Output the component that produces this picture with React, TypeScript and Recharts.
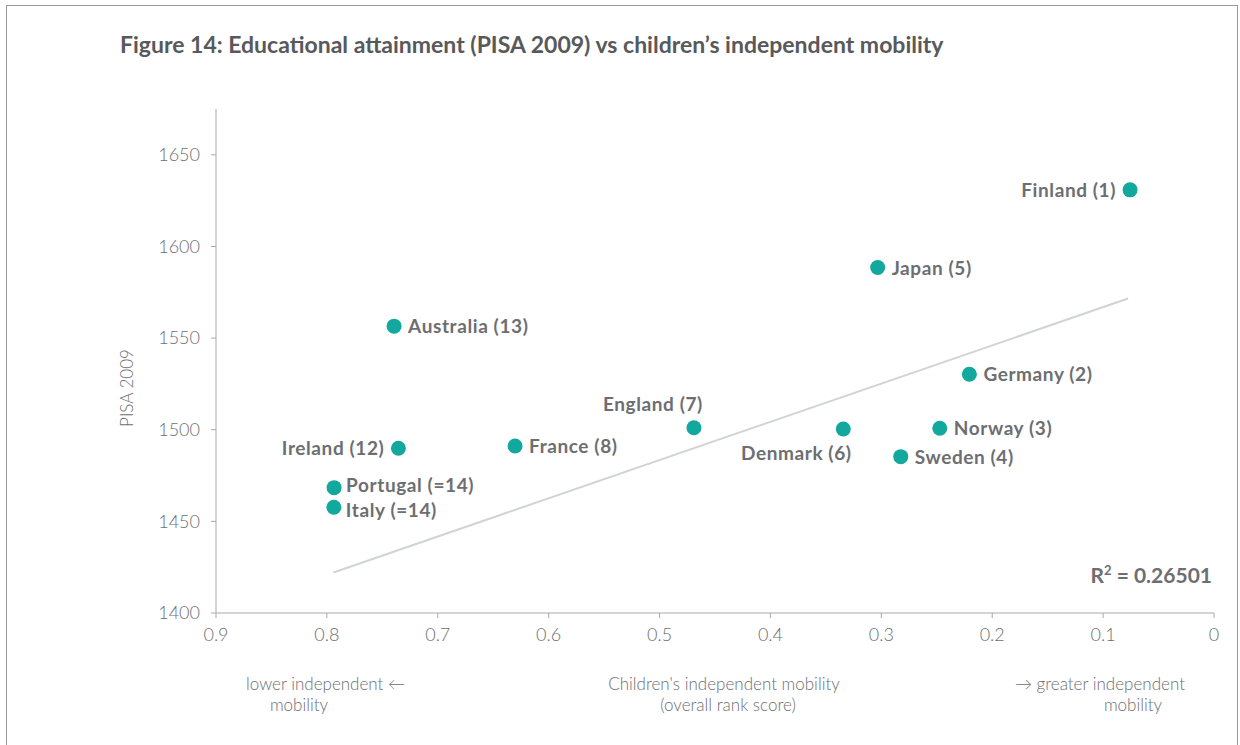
import { ScatterChart, Scatter, XAxis, YAxis, ReferenceLine } from 'recharts';

const COUNTRIES = [
  'Finland (1)',
  'Japan (5)',
  'Australia (13)',
  'Germany (2)',
  'England (7)',
  'Denmark (6)',
  'Norway (3)',
  'Sweden (4)',
  'Ireland (12)',
  'France (8)',
  'Portugal (=14)',
  'Italy (=14)',
];
const MOBILITY = [0.0757, 0.3033, 0.7394, 0.2206, 0.469, 0.3343, 0.2473, 0.2825, 0.7355, 0.6303, 0.7935, 0.7937];
const PISA = [1630.9, 1588.5, 1556.5, 1530.3, 1501.1, 1500.4, 1500.8, 1485.3, 1489.9, 1491.1, 1468.4, 1457.7];

const X_TICKS = [0, 0.1, 0.2, 0.3, 0.4, 0.5, 0.6, 0.7, 0.8, 0.9];
const Y_TICKS = [1400, 1450, 1500, 1550, 1600, 1650];

// fitted trend line
const TREND_X = [0.7941, 0.0775];
const TREND_Y = [1422.1, 1571.6];

// where each label sits relative to its dot
const LABEL_POS: Record<string, { dx: number; dy: number; anchor: 'start' | 'middle' | 'end' }> = {
  'Finland (1)': { dx: -14, dy: 7, anchor: 'end' },
  'England (7)': { dx: -41, dy: -17, anchor: 'middle' },
  'Denmark (6)': { dx: -47, dy: 31, anchor: 'middle' },
  'Ireland (12)': { dx: -14, dy: 7, anchor: 'end' },
  'Portugal (=14)': { dx: 12, dy: 4, anchor: 'start' },
  'Italy (=14)': { dx: 12, dy: 10, anchor: 'start' },
};

const TEAL = '#13a89e';
const GREY_TEXT = '#6d6e71';
const AXIS_GREY = '#a7a9ac';
const FONT = 'Lato, "Open Sans", sans-serif';

const data = COUNTRIES.map((name, i) => ({ name, x: MOBILITY[i], y: PISA[i] }));

const TICK_STYLE = { fontSize: 18, fontFamily: FONT, fontWeight: 300, fill: GREY_TEXT };

function LabelledDot(props: any) {
  const { cx, cy, payload } = props;
  const pos = LABEL_POS[payload.name] ?? { dx: 14, dy: 7, anchor: 'start' };
  return (
    <g>
      <circle cx={cx} cy={cy} r={7.5} fill={TEAL} />
      <text
        x={cx + pos.dx}
        y={cy + pos.dy}
        textAnchor={pos.anchor}
        fontFamily={FONT}
        fontWeight={700}
        fontSize={19}
        letterSpacing={0.6}
        fill={GREY_TEXT}
      >
        {payload.name}
      </text>
    </g>
  );
}

export default function App() {
  return (
    <div style={{ position: 'absolute', left: 0, top: 0, width: 1240, height: 745, background: '#fff', overflow: 'hidden' }}>
      <div
        style={{
          position: 'absolute',
          left: 6,
          top: 5,
          width: 1232,
          height: 800,
          border: '1px solid #9a9a9a',
          boxSizing: 'border-box',
        }}
      />
      <div style={{ position: 'absolute', left: 0, top: 0 }}>
        <ScatterChart width={1240} height={745} margin={{ top: 109, right: 26, left: 0, bottom: 102 }}>
          <XAxis
            type="number"
            dataKey="x"
            domain={[0, 0.9]}
            reversed
            ticks={X_TICKS}
            tick={TICK_STYLE}
            tickSize={5}
            tickMargin={10}
            height={30}
            stroke={AXIS_GREY}
            allowDataOverflow
          />
          <YAxis
            type="number"
            dataKey="y"
            domain={[1400, 1675]}
            ticks={Y_TICKS}
            tick={TICK_STYLE}
            tickSize={5}
            tickMargin={11}
            width={216}
            stroke={AXIS_GREY}
            allowDataOverflow
          />
          <ReferenceLine
            segment={[
              { x: TREND_X[0], y: TREND_Y[0] },
              { x: TREND_X[1], y: TREND_Y[1] },
            ]}
            stroke="#d1d3d4"
            strokeWidth={2}
          />
          <Scatter data={data} shape={LabelledDot} isAnimationActive={false} />
        </ScatterChart>
      </div>
      <svg width={1240} height={745} style={{ position: 'absolute', left: 0, top: 0, pointerEvents: 'none' }}>
        <text x={120} y={53} fontFamily={FONT} fontWeight={700} fontSize={23} fill="#58595b">
          Figure 14: Educational attainment (PISA 2009) vs children’s independent mobility
        </text>
        <text
          x={0}
          y={0}
          transform="translate(133 388) rotate(-90)"
          textAnchor="middle"
          fontFamily={FONT}
          fontWeight={300}
          fontSize={17}
          fill={GREY_TEXT}
        >
          PISA 2009
        </text>
        <text x={1212} y={583} textAnchor="end" fontFamily={FONT} fontWeight={700} fontSize={21} fill={GREY_TEXT}>
          R<tspan dy={-8} fontSize={13}>2</tspan>
          <tspan dy={8}> = 0.26501</tspan>
        </text>
        <g fontFamily={FONT} fontWeight={300} fontSize={17} fill={GREY_TEXT}>
          <text x={246} y={690}>lower independent ←</text>
          <text x={299} y={711} textAnchor="middle">mobility</text>
          <text x={724} y={690} textAnchor="middle">Children's independent mobility</text>
          <text x={728} y={711} textAnchor="middle">(overall rank score)</text>
          <text x={1100} y={690} textAnchor="middle">→ greater independent</text>
          <text x={1133} y={711} textAnchor="middle">mobility</text>
        </g>
      </svg>
    </div>
  );
}
